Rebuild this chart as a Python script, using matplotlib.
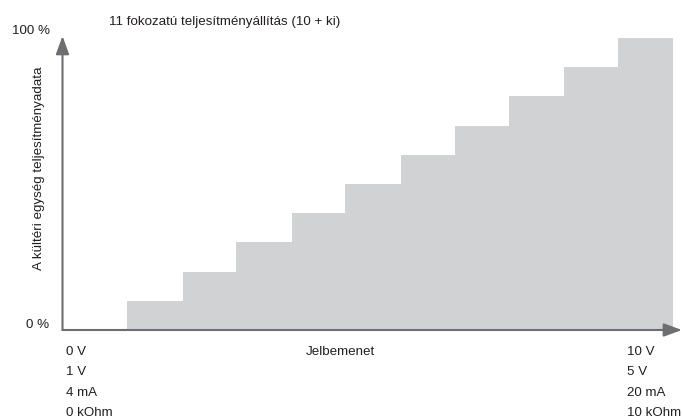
import matplotlib
matplotlib.use("Agg")
import matplotlib.pyplot as plt

# step data: start of each step (signal units), level in %
step_starts = [1.19, 2.22, 3.18, 4.21, 5.19, 6.21, 7.20, 8.19, 9.20, 10.19]
step_end = 11.20
levels = [10, 20, 30, 40, 50, 60, 70, 80, 90, 100]

title = "11 fokozatú teljesítményállítás (10 + ki)"
ylabel = "A kültéri egység teljesítményadata"
xlabel = "Jelbemenet"
left_labels = ["0 V", "1 V", "4 mA", "0 kOhm"]
right_labels = ["10 V", "5 V", "20 mA", "10 kOhm"]

plt.rcParams['font.family'] = ['Liberation Sans Narrow', 'Liberation Sans', 'DejaVu Sans']
txt_color = "#231f20"
axis_color = "#6d6e71"
fill_color = "#d1d2d4"

W, H = 682, 420
fig = plt.figure(figsize=(W / 100, H / 100), dpi=100)

# axes: x=0 at px 62.5, 1 unit = 54.5 px; y 0..100 -> px 330..38
x0_px, unit_px = 62.5, 54.5
xmax = (W - x0_px) / unit_px
ax = fig.add_axes([x0_px / W, (H - 330) / H, (W - x0_px) / W, 292 / H])
ax.set_xlim(0, xmax)
ax.set_ylim(0, 100)
ax.axis("off")

widths = [b - a for a, b in zip(step_starts, step_starts[1:] + [step_end])]
ax.bar(step_starts, levels, width=widths, align="edge", color=fill_color,
       linewidth=0, zorder=1)

arrow = dict(arrowstyle="-|>,head_length=1.1,head_width=0.4", color=axis_color,
             lw=1.5, mutation_scale=10, shrinkA=0, shrinkB=0)
ax.annotate("", xy=(xmax, 0), xytext=(0, 0), arrowprops=arrow,
            annotation_clip=False, zorder=3)
ax.annotate("", xy=(0, 100.7), xytext=(0, 0), arrowprops=arrow,
            annotation_clip=False, zorder=3)


def px_text(x, y, s, **kw):
    fig.text(x / W, 1 - y / H, s, color=txt_color, fontsize=9.6, **kw)


px_text(12, 31, "100 %", ha="left", va="center")
px_text(49, 325, "0 %", ha="right", va="center")
px_text(109, 22, title, ha="left", va="center")
px_text(39, 168, ylabel, ha="center", va="center", rotation=90)
px_text(340, 352, xlabel, ha="center", va="center")

for i, (l, r) in enumerate(zip(left_labels, right_labels)):
    y = 352 + i * 20.3
    px_text(66, y, l, ha="left", va="center")
    px_text(627, y, r, ha="left", va="center")

fig.savefig("out.png", dpi=100)
